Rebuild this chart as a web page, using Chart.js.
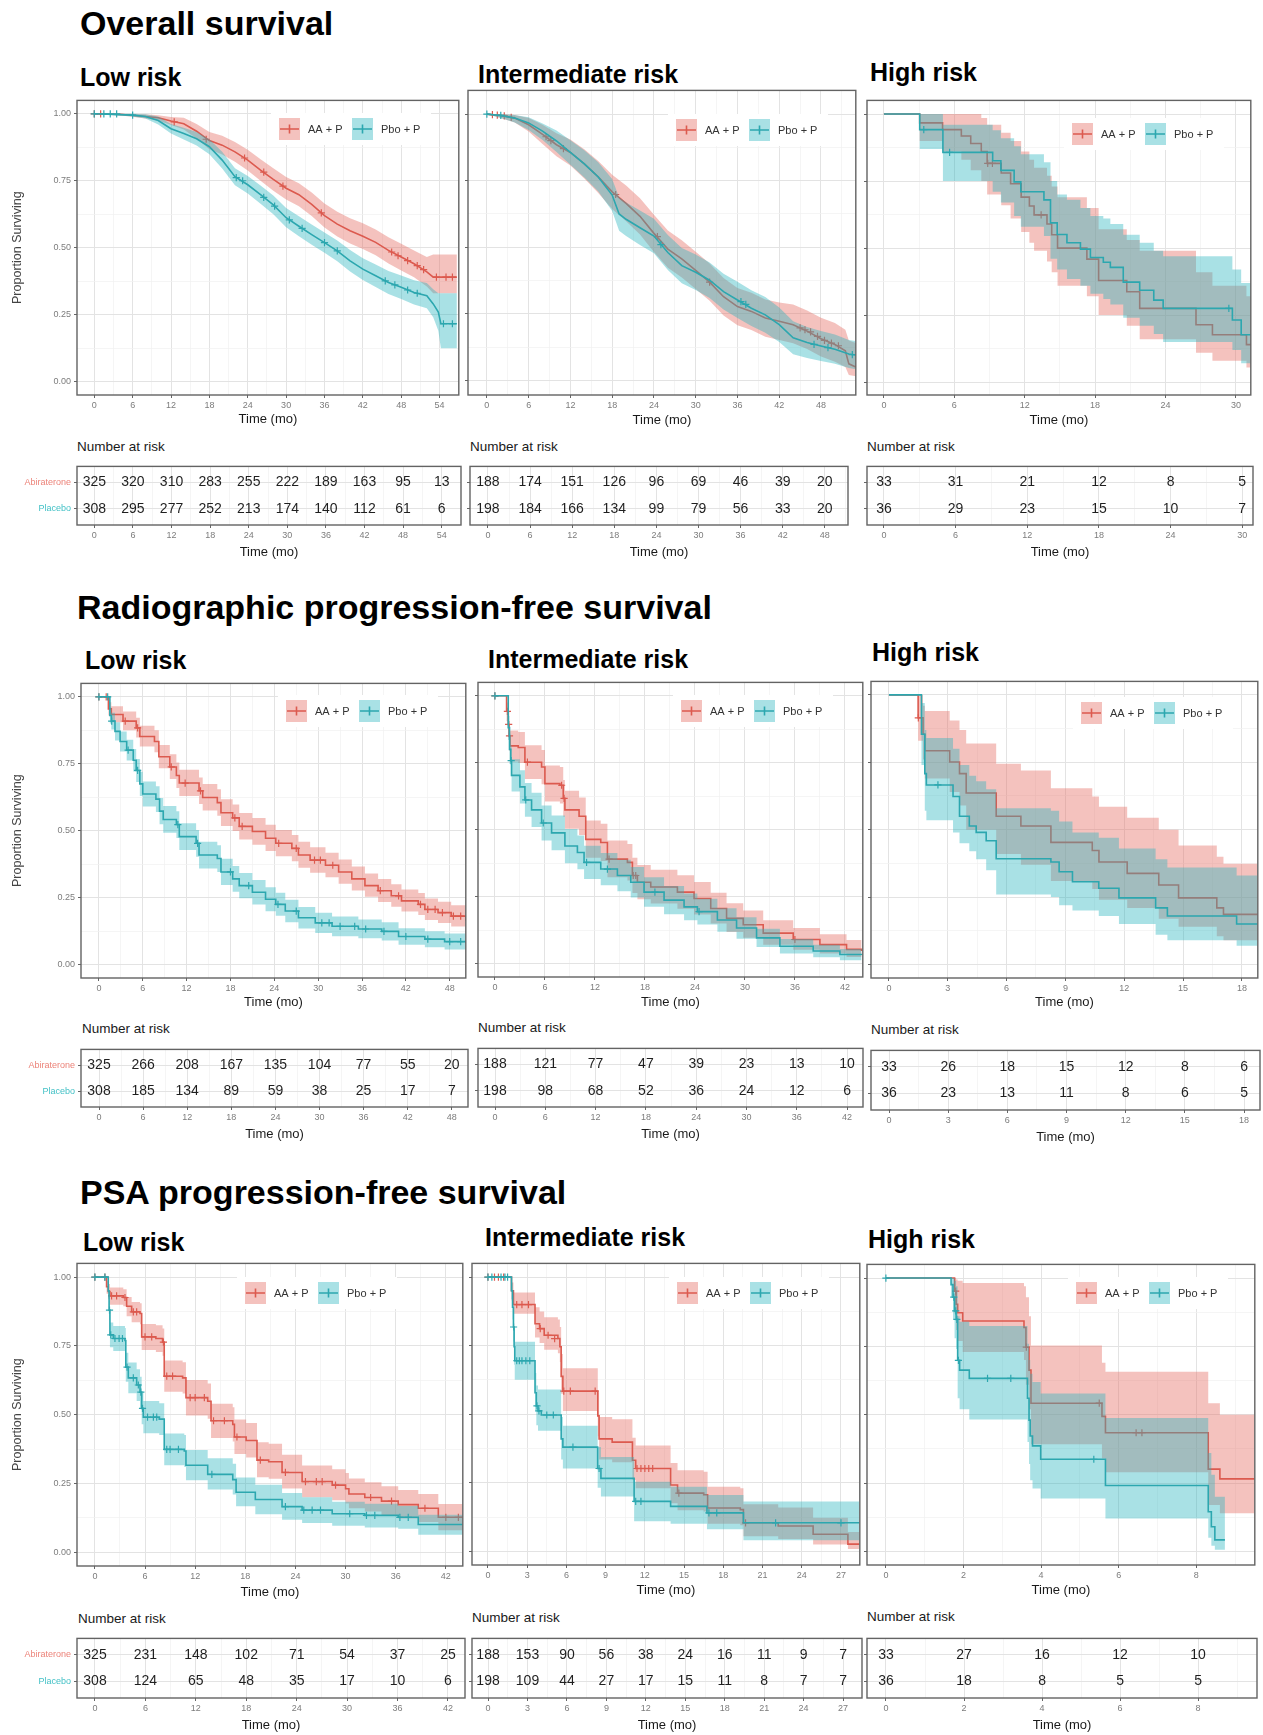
<!DOCTYPE html>
<html>
<head>
<meta charset="utf-8">
<script src="https://cdn.jsdelivr.net/npm/chart.js@4.4.1/dist/chart.umd.min.js"></script>
<style>
  html, body { margin: 0; padding: 0; background: #fff; }
  body { position: relative; width: 1263px; height: 1735px; overflow: hidden; font-family: "Liberation Sans", Arial, sans-serif; }
  canvas { position: absolute; }
  .sec { position: absolute; font-size: 34px; line-height: 34px; font-weight: bold; color: #000; white-space: nowrap; }
  .sub { position: absolute; font-size: 25px; line-height: 25px; font-weight: bold; color: #000; white-space: nowrap; }
  .nar { position: absolute; font-size: 13.5px; line-height: 13.5px; color: #1a1a1a; white-space: nowrap; }
</style>
</head>
<body>
<div class="sec" style="left:80px;top:5.5px">Overall survival</div>
<div class="sec" style="left:77px;top:589.5px">Radiographic progression-free survival</div>
<div class="sec" style="left:80px;top:1174.5px">PSA progression-free survival</div>

<div class="sub" style="left:80px;top:64.7px">Low risk</div>
<div class="sub" style="left:478px;top:61.7px">Intermediate risk</div>
<div class="sub" style="left:870px;top:59.7px">High risk</div>
<div class="sub" style="left:85px;top:647.7px">Low risk</div>
<div class="sub" style="left:488px;top:646.7px">Intermediate risk</div>
<div class="sub" style="left:872px;top:639.7px">High risk</div>
<div class="sub" style="left:83px;top:1229.7px">Low risk</div>
<div class="sub" style="left:485px;top:1224.7px">Intermediate risk</div>
<div class="sub" style="left:868px;top:1226.7px">High risk</div>

<div class="nar" style="left:77px;top:440.4px">Number at risk</div>
<div class="nar" style="left:470px;top:440.4px">Number at risk</div>
<div class="nar" style="left:867px;top:440.4px">Number at risk</div>
<div class="nar" style="left:82px;top:1022.4px">Number at risk</div>
<div class="nar" style="left:478px;top:1021.4px">Number at risk</div>
<div class="nar" style="left:871px;top:1023.4px">Number at risk</div>
<div class="nar" style="left:78px;top:1612.4px">Number at risk</div>
<div class="nar" style="left:472px;top:1611.4px">Number at risk</div>
<div class="nar" style="left:867px;top:1610.4px">Number at risk</div>

<script>
// ---- labels ----
const armLabels = ['AA + P', 'Pbo + P'];
const riskRowLabels = ['Abiraterone', 'Placebo'];
const survTicks = [0, 0.25, 0.5, 0.75, 1];
const survTickLabels = ['0.00', '0.25', '0.50', '0.75', '1.00'];

// ---- time ticks (also number-at-risk times) ----
const osLowTimes = [0, 6, 12, 18, 24, 30, 36, 42, 48, 54];
const osIntTimes = [0, 6, 12, 18, 24, 30, 36, 42, 48];
const osHighTimes = [0, 6, 12, 18, 24, 30];
const rpfsLowTimes = [0, 6, 12, 18, 24, 30, 36, 42, 48];
const rpfsIntTimes = [0, 6, 12, 18, 24, 30, 36, 42];
const rpfsHighTimes = [0, 3, 6, 9, 12, 15, 18];
const psaLowTimes = [0, 6, 12, 18, 24, 30, 36, 42];
const psaIntTimes = [0, 3, 6, 9, 12, 15, 18, 21, 24, 27];
const psaHighTimes = [0, 2, 4, 6, 8];

// ---- number at risk ----
const osLowRiskAbi = [325, 320, 310, 283, 255, 222, 189, 163, 95, 13];
const osLowRiskPbo = [308, 295, 277, 252, 213, 174, 140, 112, 61, 6];
const osIntRiskAbi = [188, 174, 151, 126, 96, 69, 46, 39, 20];
const osIntRiskPbo = [198, 184, 166, 134, 99, 79, 56, 33, 20];
const osHighRiskAbi = [33, 31, 21, 12, 8, 5];
const osHighRiskPbo = [36, 29, 23, 15, 10, 7];
const rpfsLowRiskAbi = [325, 266, 208, 167, 135, 104, 77, 55, 20];
const rpfsLowRiskPbo = [308, 185, 134, 89, 59, 38, 25, 17, 7];
const rpfsIntRiskAbi = [188, 121, 77, 47, 39, 23, 13, 10];
const rpfsIntRiskPbo = [198, 98, 68, 52, 36, 24, 12, 6];
const rpfsHighRiskAbi = [33, 26, 18, 15, 12, 8, 6];
const rpfsHighRiskPbo = [36, 23, 13, 11, 8, 6, 5];
const psaLowRiskAbi = [325, 231, 148, 102, 71, 54, 37, 25];
const psaLowRiskPbo = [308, 124, 65, 48, 35, 17, 10, 6];
const psaIntRiskAbi = [188, 153, 90, 56, 38, 24, 16, 11, 9, 7];
const psaIntRiskPbo = [198, 109, 44, 27, 17, 15, 11, 8, 7, 7];
const psaHighRiskAbi = [33, 27, 16, 12, 10];
const psaHighRiskPbo = [36, 18, 8, 5, 5];

// ---- Overall survival, low risk ----
const osLowAbiT = [0, 4, 8, 10, 12, 14, 16, 18, 20, 22, 24, 26, 28, 30, 32, 34, 36, 38, 40, 42, 44, 46, 48, 50, 52, 53, 56.7];
const osLowAbiS = [1, 0.998, 0.99, 0.985, 0.973, 0.963, 0.935, 0.9, 0.883, 0.858, 0.827, 0.79, 0.755, 0.722, 0.698, 0.662, 0.62, 0.588, 0.563, 0.543, 0.52, 0.49, 0.465, 0.44, 0.41, 0.39, 0.39];
const osLowAbiHi = [1, 1, 0.998, 0.995, 0.988, 0.985, 0.962, 0.932, 0.918, 0.895, 0.866, 0.83, 0.797, 0.764, 0.741, 0.706, 0.665, 0.634, 0.61, 0.591, 0.568, 0.539, 0.515, 0.49, 0.465, 0.475, 0.475];
const osLowAbiLo = [1, 0.995, 0.982, 0.975, 0.958, 0.941, 0.908, 0.868, 0.848, 0.821, 0.788, 0.75, 0.713, 0.68, 0.655, 0.618, 0.575, 0.542, 0.516, 0.495, 0.472, 0.441, 0.415, 0.39, 0.355, 0.33, 0.33];
const osLowAbiCens = [[0, 1], [1, 1], [12.5, 0.97], [17.5, 0.905], [23.5, 0.835], [26.5, 0.782], [29.5, 0.73], [35.5, 0.63], [46.5, 0.484], [47.5, 0.47], [49, 0.452], [50.5, 0.433], [51.5, 0.418], [53.5, 0.39], [55, 0.39], [56, 0.39]];
const osLowPboT = [0, 6, 8, 10, 12, 14, 16, 18, 20, 22, 24, 26, 28, 30, 32, 34, 36, 38, 40, 42, 44, 46, 48, 50, 52, 53, 53.8, 54.2, 56.7];
const osLowPboS = [1, 0.995, 0.99, 0.975, 0.944, 0.926, 0.907, 0.877, 0.827, 0.765, 0.735, 0.698, 0.66, 0.612, 0.58, 0.549, 0.519, 0.488, 0.451, 0.42, 0.395, 0.37, 0.352, 0.333, 0.321, 0.29, 0.26, 0.216, 0.216];
const osLowPboHi = [1, 1, 0.998, 0.99, 0.962, 0.948, 0.932, 0.905, 0.858, 0.797, 0.768, 0.732, 0.695, 0.648, 0.617, 0.587, 0.557, 0.527, 0.491, 0.461, 0.437, 0.413, 0.396, 0.378, 0.368, 0.345, 0.33, 0.33, 0.33];
const osLowPboLo = [1, 0.99, 0.982, 0.96, 0.926, 0.904, 0.882, 0.849, 0.796, 0.733, 0.702, 0.664, 0.625, 0.576, 0.543, 0.511, 0.481, 0.449, 0.411, 0.379, 0.353, 0.327, 0.308, 0.288, 0.274, 0.24, 0.19, 0.125, 0.125];
const osLowPboCens = [[0, 1], [1.5, 1], [2.5, 1], [3.5, 1], [6, 0.995], [22.2, 0.762], [23.2, 0.75], [26.5, 0.688], [28.2, 0.655], [30.5, 0.604], [32.5, 0.572], [36, 0.519], [38, 0.488], [45.5, 0.376], [47, 0.361], [49, 0.342], [50.5, 0.33], [54.6, 0.216], [56, 0.216]];

// ---- Overall survival, intermediate risk ----
const osIntAbiT = [0, 2, 4, 6, 8, 10, 12, 14, 16, 18, 20, 22, 24, 26, 28, 30, 32, 34, 36, 38, 40, 42, 44, 46, 48, 50, 51.5, 52, 53];
const osIntAbiS = [1, 0.995, 0.985, 0.96, 0.924, 0.885, 0.856, 0.813, 0.764, 0.708, 0.665, 0.616, 0.552, 0.493, 0.456, 0.413, 0.369, 0.314, 0.277, 0.259, 0.234, 0.222, 0.209, 0.185, 0.156, 0.135, 0.111, 0.062, 0.05];
const osIntAbiHi = [1, 1, 0.997, 0.985, 0.96, 0.928, 0.905, 0.868, 0.824, 0.772, 0.732, 0.684, 0.622, 0.563, 0.526, 0.483, 0.439, 0.384, 0.347, 0.329, 0.304, 0.292, 0.285, 0.262, 0.235, 0.215, 0.19, 0.15, 0.14];
const osIntAbiLo = [1, 0.985, 0.968, 0.935, 0.888, 0.842, 0.807, 0.758, 0.704, 0.644, 0.598, 0.548, 0.482, 0.423, 0.386, 0.343, 0.299, 0.244, 0.207, 0.189, 0.164, 0.152, 0.139, 0.118, 0.09, 0.07, 0.05, 0.02, 0.015];
const osIntAbiCens = [[0.8, 0.998], [1.5, 0.996], [2.5, 0.993], [3.5, 0.988], [8.5, 0.915], [9.2, 0.9], [11, 0.87], [18.5, 0.698], [24.5, 0.54], [32, 0.369], [45, 0.197], [45.7, 0.19], [46.5, 0.182], [47.5, 0.165], [48.5, 0.15], [49.5, 0.14], [50.5, 0.13]];
const osIntPboT = [0, 2, 4, 6, 8, 10, 12, 14, 16, 18, 19, 20, 22, 24, 26, 28, 30, 32, 34, 36, 38, 40, 42, 44, 46, 48, 50, 52, 53];
const osIntPboS = [1, 0.995, 0.985, 0.967, 0.936, 0.899, 0.856, 0.813, 0.764, 0.696, 0.625, 0.605, 0.573, 0.542, 0.48, 0.431, 0.406, 0.376, 0.333, 0.302, 0.271, 0.246, 0.209, 0.16, 0.142, 0.129, 0.117, 0.099, 0.095];
const osIntPboHi = [1, 1, 0.997, 0.988, 0.965, 0.938, 0.902, 0.864, 0.819, 0.756, 0.688, 0.668, 0.638, 0.607, 0.546, 0.497, 0.473, 0.443, 0.4, 0.37, 0.338, 0.313, 0.274, 0.222, 0.2, 0.185, 0.172, 0.152, 0.148];
const osIntPboLo = [1, 0.985, 0.968, 0.94, 0.903, 0.858, 0.81, 0.762, 0.709, 0.636, 0.562, 0.542, 0.508, 0.477, 0.414, 0.365, 0.339, 0.309, 0.266, 0.234, 0.204, 0.179, 0.144, 0.098, 0.084, 0.073, 0.062, 0.046, 0.042];
const osIntPboCens = [[0, 1], [2, 0.995], [25, 0.51], [36.5, 0.296], [37.2, 0.285], [47, 0.135], [49, 0.123], [52.5, 0.097]];

// ---- Overall survival, high risk ----
const osHighAbiT = [0, 3.05, 5.0, 6.6, 7.4, 8.3, 8.8, 10.0, 10.8, 11.7, 12.4, 12.8, 13.9, 14.3, 14.8, 17.3, 18.3, 20.7, 21.8, 26.6, 28.0, 30.9, 31.3];
const osHighAbiS = [1, 0.967, 0.942, 0.918, 0.89, 0.86, 0.816, 0.78, 0.74, 0.69, 0.657, 0.624, 0.59, 0.55, 0.5, 0.459, 0.379, 0.337, 0.275, 0.214, 0.177, 0.14, 0.14];
const osHighAbiHi = [1, 1, 1, 1, 1, 0.985, 0.96, 0.93, 0.9, 0.86, 0.83, 0.8, 0.77, 0.73, 0.69, 0.65, 0.57, 0.53, 0.49, 0.41, 0.36, 0.32, 0.32];
const osHighAbiLo = [1, 0.9, 0.86, 0.83, 0.79, 0.75, 0.7, 0.66, 0.61, 0.56, 0.52, 0.49, 0.45, 0.41, 0.36, 0.32, 0.25, 0.21, 0.16, 0.11, 0.08, 0.055, 0.055];
const osHighAbiCens = [[8.85, 0.816], [9.25, 0.816], [13.4, 0.624]];
const osHighPboT = [0, 3.05, 5.03, 9.27, 9.97, 11.1, 11.67, 13.64, 14.2, 14.77, 15.6, 16.75, 17.6, 18.7, 19.3, 20.4, 21.8, 23.0, 23.8, 29.7, 30.45, 31.3];
const osHighPboS = [1, 0.942, 0.857, 0.826, 0.79, 0.747, 0.71, 0.68, 0.594, 0.551, 0.52, 0.496, 0.465, 0.447, 0.428, 0.373, 0.343, 0.306, 0.275, 0.232, 0.177, 0.177];
const osHighPboHi = [1, 1, 0.96, 0.94, 0.91, 0.88, 0.85, 0.82, 0.75, 0.7, 0.68, 0.65, 0.62, 0.61, 0.59, 0.55, 0.52, 0.49, 0.47, 0.42, 0.37, 0.37];
const osHighPboLo = [1, 0.87, 0.75, 0.71, 0.67, 0.62, 0.58, 0.545, 0.46, 0.42, 0.385, 0.36, 0.33, 0.31, 0.29, 0.24, 0.21, 0.18, 0.15, 0.12, 0.07, 0.07];
const osHighPboCens = [[3.4, 0.942], [5.6, 0.857], [29.4, 0.275]];

// ---- rPFS, low risk ----
const rpfsLowAbiT = [0, 1.3, 1.7, 3.3, 5.1, 5.6, 7.6, 8.2, 9.7, 10.6, 11.0, 13.7, 14.2, 16.2, 16.7, 18.3, 19.2, 21.0, 22.8, 24.2, 26.4, 27.3, 28.9, 31.0, 32.8, 34.6, 36.4, 38.2, 40.0, 41.4, 43.7, 44.6, 46.4, 48.2, 50.2];
const rpfsLowAbiS = [1, 0.955, 0.934, 0.909, 0.884, 0.852, 0.833, 0.776, 0.738, 0.706, 0.678, 0.649, 0.624, 0.605, 0.567, 0.548, 0.516, 0.497, 0.472, 0.453, 0.434, 0.409, 0.39, 0.371, 0.346, 0.32, 0.295, 0.276, 0.257, 0.238, 0.225, 0.206, 0.194, 0.181, 0.165];
const rpfsLowAbiHi = [1, 0.98, 0.965, 0.945, 0.922, 0.892, 0.875, 0.82, 0.785, 0.755, 0.728, 0.699, 0.674, 0.655, 0.617, 0.598, 0.566, 0.547, 0.522, 0.503, 0.484, 0.459, 0.438, 0.418, 0.392, 0.366, 0.34, 0.32, 0.3, 0.28, 0.267, 0.247, 0.235, 0.222, 0.206];
const rpfsLowAbiLo = [1, 0.93, 0.905, 0.875, 0.848, 0.814, 0.793, 0.733, 0.693, 0.659, 0.63, 0.6, 0.575, 0.556, 0.518, 0.499, 0.467, 0.448, 0.424, 0.405, 0.386, 0.362, 0.343, 0.326, 0.302, 0.277, 0.253, 0.234, 0.216, 0.198, 0.185, 0.167, 0.155, 0.142, 0.128];
const rpfsLowAbiCens = [[0, 1], [1.0, 1], [3.6, 0.909], [5.3, 0.884], [9.9, 0.738], [11.8, 0.678], [13.9, 0.649], [18.6, 0.548], [19.6, 0.516], [24.6, 0.453], [27.0, 0.434], [29.5, 0.39], [30.3, 0.39], [32.0, 0.371], [38.5, 0.276], [41.0, 0.257], [44.0, 0.225], [45.0, 0.206], [46.0, 0.206], [47.0, 0.194], [48.5, 0.181], [49.5, 0.181]];
const rpfsLowPboT = [0, 1.5, 1.7, 2.2, 2.9, 3.8, 4.7, 5.1, 5.6, 6.0, 7.8, 8.3, 8.8, 10.6, 11.0, 13.3, 13.7, 16.2, 16.7, 18.3, 19.2, 21.0, 22.8, 24.2, 25.5, 27.3, 29.6, 31.9, 35.5, 38.7, 41.0, 44.6, 47.3, 50.2];
const rpfsLowPboS = [1, 0.93, 0.909, 0.871, 0.833, 0.801, 0.763, 0.725, 0.675, 0.637, 0.618, 0.573, 0.542, 0.523, 0.478, 0.453, 0.409, 0.396, 0.346, 0.32, 0.295, 0.27, 0.244, 0.225, 0.2, 0.175, 0.156, 0.143, 0.133, 0.124, 0.105, 0.095, 0.086, 0.08];
const rpfsLowPboHi = [1, 0.96, 0.94, 0.905, 0.87, 0.84, 0.805, 0.768, 0.72, 0.684, 0.666, 0.622, 0.592, 0.573, 0.528, 0.503, 0.459, 0.446, 0.395, 0.368, 0.342, 0.316, 0.289, 0.268, 0.242, 0.215, 0.194, 0.18, 0.168, 0.158, 0.136, 0.125, 0.116, 0.11];
const rpfsLowPboLo = [1, 0.9, 0.878, 0.837, 0.796, 0.762, 0.721, 0.682, 0.63, 0.59, 0.57, 0.524, 0.492, 0.473, 0.428, 0.403, 0.359, 0.346, 0.297, 0.272, 0.248, 0.224, 0.199, 0.182, 0.158, 0.135, 0.118, 0.106, 0.098, 0.09, 0.074, 0.065, 0.056, 0.05];
const rpfsLowPboCens = [[0, 1], [1.2, 1], [1.75, 0.909], [4.0, 0.801], [5.3, 0.725], [10.8, 0.523], [13.5, 0.453], [18.0, 0.346], [20.5, 0.295], [24.5, 0.225], [27.0, 0.2], [30.5, 0.156], [31.5, 0.156], [33.0, 0.143], [35.0, 0.143], [36.5, 0.133], [39.0, 0.124], [42.0, 0.105], [45.0, 0.095], [48.0, 0.086], [49.5, 0.086]];

// ---- rPFS, intermediate risk ----
const rpfsIntAbiT = [0, 1.4, 1.6, 1.7, 1.8, 2.8, 3.6, 5.6, 6.0, 7.8, 8.2, 8.4, 10.1, 10.9, 12.7, 13.5, 15.9, 16.5, 17.1, 18.7, 21.9, 23.9, 25.9, 27.8, 29.8, 32.2, 35.8, 39.0, 42.2, 44.0];
const rpfsIntAbiS = [1, 0.942, 0.893, 0.85, 0.813, 0.807, 0.752, 0.734, 0.672, 0.666, 0.617, 0.574, 0.55, 0.464, 0.452, 0.39, 0.378, 0.329, 0.304, 0.286, 0.267, 0.243, 0.206, 0.169, 0.145, 0.114, 0.09, 0.071, 0.053, 0.047];
const rpfsIntAbiHi = [1, 0.975, 0.94, 0.905, 0.87, 0.865, 0.815, 0.798, 0.74, 0.734, 0.686, 0.645, 0.62, 0.534, 0.522, 0.46, 0.447, 0.395, 0.368, 0.35, 0.33, 0.305, 0.265, 0.225, 0.198, 0.162, 0.133, 0.11, 0.088, 0.08];
const rpfsIntAbiLo = [1, 0.905, 0.845, 0.795, 0.755, 0.749, 0.689, 0.67, 0.605, 0.598, 0.548, 0.504, 0.48, 0.395, 0.383, 0.322, 0.31, 0.264, 0.24, 0.224, 0.205, 0.183, 0.15, 0.118, 0.097, 0.07, 0.052, 0.038, 0.025, 0.02];
const rpfsIntAbiCens = [[0, 1], [1.5, 0.942], [1.65, 0.893], [1.75, 0.85], [3.9, 0.752], [8.0, 0.666], [8.3, 0.617], [13.7, 0.39], [16.6, 0.329], [16.9, 0.329], [36.0, 0.09]];
const rpfsIntPboT = [0, 1.6, 1.75, 1.9, 2.0, 3.0, 3.6, 4.4, 5.6, 6.8, 8.4, 9.9, 10.7, 12.7, 14.7, 16.3, 17.9, 20.3, 22.7, 24.3, 26.7, 29.0, 31.4, 34.2, 38.2, 41.4, 44.0];
const rpfsIntPboS = [1, 0.881, 0.8, 0.758, 0.703, 0.66, 0.611, 0.574, 0.525, 0.488, 0.439, 0.415, 0.378, 0.353, 0.329, 0.304, 0.267, 0.237, 0.212, 0.194, 0.163, 0.133, 0.096, 0.065, 0.047, 0.034, 0.032];
const rpfsIntPboHi = [1, 0.925, 0.855, 0.815, 0.763, 0.722, 0.674, 0.638, 0.59, 0.553, 0.503, 0.478, 0.44, 0.413, 0.388, 0.361, 0.322, 0.29, 0.262, 0.242, 0.207, 0.173, 0.13, 0.092, 0.07, 0.055, 0.052];
const rpfsIntPboLo = [1, 0.835, 0.745, 0.7, 0.643, 0.598, 0.548, 0.51, 0.46, 0.423, 0.375, 0.352, 0.316, 0.293, 0.27, 0.247, 0.212, 0.184, 0.162, 0.146, 0.119, 0.093, 0.062, 0.038, 0.024, 0.013, 0.012];
const rpfsIntPboCens = [[0, 1], [1.95, 0.758], [3.7, 0.611], [5.8, 0.525], [11.0, 0.378], [13.5, 0.353], [19.2, 0.267], [24.5, 0.194]];

// ---- rPFS, high risk ----
const rpfsHighAbiT = [0, 1.49, 1.74, 1.83, 3.1, 3.6, 3.94, 5.47, 6.73, 8.26, 10.37, 10.71, 12.15, 13.76, 14.77, 16.72, 17.06, 18.8];
const rpfsHighAbiS = [1, 0.915, 0.854, 0.793, 0.751, 0.708, 0.636, 0.55, 0.514, 0.453, 0.423, 0.38, 0.338, 0.295, 0.247, 0.21, 0.186, 0.186];
const rpfsHighAbiHi = [1, 1, 0.96, 0.94, 0.905, 0.87, 0.82, 0.745, 0.72, 0.654, 0.623, 0.585, 0.544, 0.5, 0.441, 0.4, 0.374, 0.374];
const rpfsHighAbiLo = [1, 0.83, 0.76, 0.69, 0.64, 0.59, 0.5, 0.41, 0.37, 0.31, 0.28, 0.24, 0.21, 0.17, 0.14, 0.105, 0.09, 0.09];
const rpfsHighAbiCens = [[1.5, 0.915]];
const rpfsHighPboT = [0, 1.66, 1.83, 1.91, 3.27, 3.6, 4.1, 4.45, 4.96, 5.47, 8.26, 8.68, 9.36, 10.7, 11.73, 13.6, 14.2, 17.73, 18.8];
const rpfsHighPboS = [1, 0.854, 0.708, 0.666, 0.623, 0.55, 0.514, 0.49, 0.459, 0.392, 0.38, 0.344, 0.307, 0.283, 0.247, 0.21, 0.18, 0.15, 0.15];
const rpfsHighPboHi = [1, 0.97, 0.87, 0.84, 0.8, 0.74, 0.7, 0.68, 0.65, 0.58, 0.57, 0.53, 0.49, 0.47, 0.43, 0.39, 0.36, 0.33, 0.33];
const rpfsHighPboLo = [1, 0.74, 0.57, 0.535, 0.49, 0.45, 0.42, 0.39, 0.35, 0.26, 0.25, 0.22, 0.2, 0.18, 0.15, 0.11, 0.09, 0.07, 0.07];
const rpfsHighPboCens = [[2.5, 0.666]];

// ---- PSA PFS, low risk ----
const psaLowAbiT = [0, 1.4, 1.6, 1.8, 3.4, 3.8, 4.4, 5.4, 5.6, 7.3, 8.1, 8.3, 10.5, 10.9, 13.5, 13.9, 16.5, 16.7, 18.1, 19.4, 20.8, 22.4, 24.8, 28.4, 30.0, 30.4, 32.3, 34.3, 36.3, 38.7, 41.1, 44.0];
const psaLowAbiS = [1, 0.965, 0.948, 0.932, 0.926, 0.894, 0.874, 0.868, 0.783, 0.777, 0.764, 0.64, 0.634, 0.562, 0.549, 0.478, 0.465, 0.419, 0.406, 0.335, 0.329, 0.29, 0.257, 0.244, 0.231, 0.212, 0.199, 0.186, 0.173, 0.16, 0.127, 0.127];
const psaLowAbiHi = [1, 0.985, 0.975, 0.962, 0.956, 0.928, 0.91, 0.905, 0.83, 0.825, 0.813, 0.697, 0.691, 0.626, 0.613, 0.54, 0.527, 0.483, 0.47, 0.4, 0.394, 0.354, 0.315, 0.302, 0.288, 0.268, 0.254, 0.24, 0.226, 0.212, 0.175, 0.175];
const psaLowAbiLo = [1, 0.94, 0.92, 0.9, 0.894, 0.858, 0.836, 0.829, 0.735, 0.728, 0.714, 0.583, 0.577, 0.497, 0.485, 0.415, 0.403, 0.357, 0.344, 0.273, 0.267, 0.232, 0.2, 0.189, 0.177, 0.16, 0.148, 0.135, 0.123, 0.11, 0.08, 0.08];
const psaLowAbiCens = [[0, 1], [1.2, 1], [2.0, 0.932], [2.6, 0.932], [3.6, 0.926], [4.6, 0.874], [5.0, 0.874], [6.0, 0.783], [6.8, 0.783], [8.2, 0.764], [8.6, 0.64], [9.3, 0.64], [11.4, 0.562], [12.0, 0.562], [13.1, 0.562], [14.2, 0.478], [15.5, 0.478], [17.0, 0.419], [19.8, 0.335], [22.8, 0.29], [25.2, 0.257], [26.5, 0.257], [27.2, 0.257], [28.8, 0.244], [33.0, 0.199], [35.5, 0.186], [39.5, 0.16], [42.0, 0.127], [43.5, 0.127]];
const psaLowPboT = [0, 1.6, 1.7, 1.8, 2.2, 3.6, 3.7, 4.0, 5.0, 5.4, 5.6, 5.8, 7.7, 8.3, 10.7, 10.9, 13.5, 16.5, 16.9, 19.2, 22.4, 24.8, 28.4, 32.3, 36.3, 38.7, 44.0];
const psaLowPboS = [1, 0.95, 0.88, 0.79, 0.777, 0.77, 0.673, 0.634, 0.608, 0.582, 0.523, 0.491, 0.484, 0.374, 0.368, 0.316, 0.283, 0.264, 0.218, 0.192, 0.166, 0.153, 0.14, 0.134, 0.127, 0.101, 0.101];
const psaLowPboHi = [1, 0.975, 0.915, 0.835, 0.822, 0.815, 0.725, 0.69, 0.665, 0.638, 0.58, 0.55, 0.542, 0.432, 0.426, 0.372, 0.342, 0.322, 0.272, 0.245, 0.215, 0.2, 0.184, 0.176, 0.168, 0.136, 0.136];
const psaLowPboLo = [1, 0.925, 0.845, 0.745, 0.732, 0.725, 0.62, 0.578, 0.55, 0.525, 0.465, 0.433, 0.426, 0.316, 0.31, 0.262, 0.228, 0.21, 0.167, 0.138, 0.118, 0.106, 0.096, 0.09, 0.085, 0.064, 0.064];
const psaLowPboCens = [[0, 1], [1.2, 1], [1.75, 0.88], [1.9, 0.79], [2.4, 0.777], [2.9, 0.777], [3.3, 0.777], [3.85, 0.673], [4.6, 0.634], [5.2, 0.608], [5.5, 0.582], [5.7, 0.523], [6.3, 0.491], [7.0, 0.491], [7.4, 0.491], [8.6, 0.374], [9.0, 0.374], [10.0, 0.374], [14.0, 0.283], [22.8, 0.166], [25.0, 0.153], [26.0, 0.153], [27.0, 0.153], [30.5, 0.14], [32.5, 0.134], [33.5, 0.134], [36.5, 0.127], [37.5, 0.127]];

// ---- PSA PFS, intermediate risk ----
const psaIntAbiT = [0, 1.8, 1.95, 3.6, 3.95, 4.3, 5.35, 5.5, 5.6, 5.73, 8.4, 8.5, 9.5, 11.05, 11.3, 13.97, 14.5, 16.5, 16.8, 19.3, 19.54, 22.2, 24.87, 27.53, 28.4];
const psaIntAbiS = [1, 0.95, 0.9, 0.83, 0.812, 0.788, 0.776, 0.746, 0.638, 0.584, 0.494, 0.41, 0.398, 0.332, 0.302, 0.242, 0.212, 0.206, 0.158, 0.152, 0.104, 0.092, 0.062, 0.026, 0.026];
const psaIntAbiHi = [1, 0.98, 0.944, 0.89, 0.875, 0.854, 0.845, 0.818, 0.72, 0.668, 0.58, 0.49, 0.482, 0.414, 0.386, 0.322, 0.296, 0.29, 0.235, 0.23, 0.172, 0.16, 0.122, 0.07, 0.07];
const psaIntAbiLo = [1, 0.915, 0.866, 0.78, 0.76, 0.735, 0.722, 0.69, 0.575, 0.512, 0.42, 0.335, 0.325, 0.26, 0.23, 0.175, 0.15, 0.145, 0.1, 0.095, 0.055, 0.045, 0.025, 0.008, 0.008];
const psaIntAbiCens = [[0, 1], [0.5, 1], [0.8, 1], [1.2, 1], [2.2, 0.9], [2.6, 0.9], [3.1, 0.9], [4.0, 0.812], [4.6, 0.788], [5.1, 0.776], [5.8, 0.584], [6.3, 0.584], [8.2, 0.584], [11.4, 0.302], [11.7, 0.302], [12.0, 0.302], [12.3, 0.302], [12.6, 0.302], [14.6, 0.212], [19.7, 0.104]];
const psaIntPboT = [0, 1.8, 1.88, 1.95, 2.0, 2.05, 3.6, 3.7, 3.83, 4.08, 5.6, 5.73, 8.39, 8.64, 11.18, 13.97, 16.75, 19.54, 28.4];
const psaIntPboS = [1, 0.95, 0.89, 0.818, 0.746, 0.695, 0.578, 0.53, 0.512, 0.497, 0.41, 0.38, 0.302, 0.266, 0.182, 0.164, 0.14, 0.104, 0.104];
const psaIntPboHi = [1, 0.98, 0.935, 0.87, 0.81, 0.764, 0.65, 0.605, 0.59, 0.59, 0.49, 0.458, 0.38, 0.344, 0.254, 0.235, 0.205, 0.182, 0.182];
const psaIntPboLo = [1, 0.92, 0.845, 0.765, 0.68, 0.626, 0.51, 0.46, 0.44, 0.44, 0.335, 0.302, 0.232, 0.2, 0.11, 0.1, 0.08, 0.04, 0.04];
const psaIntPboCens = [[0, 1], [0.3, 1], [1.0, 1], [1.3, 1], [1.5, 1], [1.96, 0.818], [2.2, 0.695], [2.4, 0.695], [2.6, 0.695], [2.9, 0.695], [3.2, 0.695], [3.75, 0.53], [3.9, 0.512], [4.5, 0.497], [5.0, 0.497], [6.5, 0.38], [8.5, 0.302], [11.3, 0.182], [11.7, 0.182], [16.9, 0.14], [17.5, 0.14], [22.0, 0.104], [27.0, 0.104]];

// ---- PSA PFS, high risk ----
const psaHighAbiT = [0, 1.77, 1.81, 1.85, 1.98, 3.56, 3.61, 3.69, 3.74, 5.57, 5.66, 8.31, 8.61, 9.5];
const psaHighAbiS = [1, 0.952, 0.904, 0.873, 0.843, 0.819, 0.747, 0.663, 0.542, 0.494, 0.434, 0.301, 0.265, 0.265];
const psaHighAbiHi = [1, 1, 0.995, 0.99, 0.982, 0.97, 0.93, 0.86, 0.753, 0.69, 0.657, 0.542, 0.5, 0.5];
const psaHighAbiLo = [1, 0.87, 0.81, 0.77, 0.729, 0.7, 0.61, 0.52, 0.392, 0.34, 0.289, 0.17, 0.139, 0.139];
const psaHighAbiCens = [[1.8, 0.952], [3.62, 0.747], [5.5, 0.542], [6.45, 0.434], [6.6, 0.434]];
const psaHighPboT = [0, 1.68, 1.73, 1.77, 1.81, 1.85, 1.9, 2.15, 3.65, 3.69, 3.72, 3.78, 3.99, 5.66, 8.31, 8.39, 8.48, 8.74];
const psaHighPboS = [1, 0.976, 0.93, 0.88, 0.849, 0.699, 0.663, 0.633, 0.56, 0.48, 0.422, 0.386, 0.337, 0.241, 0.145, 0.09, 0.042, 0.042];
const psaHighPboHi = [1, 1, 1, 0.99, 0.97, 0.86, 0.84, 0.825, 0.76, 0.7, 0.65, 0.62, 0.578, 0.488, 0.36, 0.28, 0.2, 0.2];
const psaHighPboLo = [1, 0.93, 0.85, 0.78, 0.74, 0.56, 0.52, 0.482, 0.4, 0.32, 0.26, 0.23, 0.193, 0.12, 0.05, 0.02, 0.006, 0.006];
const psaHighPboCens = [[0, 1], [1.75, 0.93], [1.8, 0.88], [1.83, 0.849], [1.87, 0.699], [2.62, 0.633], [3.22, 0.633], [5.36, 0.337]];

// ---- styling ----
Chart.defaults.font.family = '"Liberation Sans", Arial, sans-serif';
const RED = '#DC5A4F', TEAL = '#2CA7AF';
const RED_BAND = 'rgba(228,110,100,0.42)', TEAL_BAND = 'rgba(40,180,190,0.40)';
const GRID_MAJOR = '#E3E3E3', GRID_MINOR = '#F1F1F1';
const NONE = 'rgba(0,0,0,0)';

function arm(t, s, lo, hi, cens) { return { t, s, lo, hi, cens }; }

// page layout of each panel: box = [left, top, right, bottom]
const panels = [
  { box: [77, 95, 461, 395], x: [-2.7, 57], y: [-0.05, 1.05], col1: true, H: 32, stepped: false, legend: [279, 118], ticks: osLowTimes,
    abi: arm(osLowAbiT, osLowAbiS, osLowAbiLo, osLowAbiHi, osLowAbiCens), pbo: arm(osLowPboT, osLowPboS, osLowPboLo, osLowPboHi, osLowPboCens),
    table: { box: [77, 461, 461, 525], x: [-2.7, 57], abi: osLowRiskAbi, pbo: osLowRiskPbo } },
  { box: [468, 85, 858, 395], x: [-2.71, 53], y: [-0.055, 1.089], col1: false, H: 33, stepped: false, legend: [676, 119], ticks: osIntTimes,
    abi: arm(osIntAbiT, osIntAbiS, osIntAbiLo, osIntAbiHi, osIntAbiCens), pbo: arm(osIntPboT, osIntPboS, osIntPboLo, osIntPboHi, osIntPboCens),
    table: { box: [470, 461, 848, 525], x: [-2.56, 51.3], abi: osIntRiskAbi, pbo: osIntRiskPbo } },
  { box: [867, 95, 1253, 395], x: [-1.44, 31.27], y: [-0.048, 1.051], col1: false, H: 33, stepped: true, legend: [1072, 123], ticks: osHighTimes,
    abi: arm(osHighAbiT, osHighAbiS, osHighAbiLo, osHighAbiHi, osHighAbiCens), pbo: arm(osHighPboT, osHighPboS, osHighPboLo, osHighPboHi, osHighPboCens),
    table: { box: [867, 461, 1253, 525], x: [-1.42, 30.9], abi: osHighRiskAbi, pbo: osHighRiskPbo } },

  { box: [81, 678, 468, 978], x: [-2.45, 50.2], y: [-0.05, 1.05], col1: true, H: 32, stepped: true, legend: [286, 700], ticks: rpfsLowTimes,
    abi: arm(rpfsLowAbiT, rpfsLowAbiS, rpfsLowAbiLo, rpfsLowAbiHi, rpfsLowAbiCens), pbo: arm(rpfsLowPboT, rpfsLowPboS, rpfsLowPboLo, rpfsLowPboHi, rpfsLowPboCens),
    table: { box: [81, 1044, 468, 1107], x: [-2.45, 50.2], abi: rpfsLowRiskAbi, pbo: rpfsLowRiskPbo } },
  { box: [478, 677, 865, 977], x: [-2.03, 44.15], y: [-0.05, 1.05], col1: false, H: 33, stepped: true, legend: [681, 700], ticks: rpfsIntTimes,
    abi: arm(rpfsIntAbiT, rpfsIntAbiS, rpfsIntAbiLo, rpfsIntAbiHi, rpfsIntAbiCens), pbo: arm(rpfsIntPboT, rpfsIntPboS, rpfsIntPboLo, rpfsIntPboHi, rpfsIntPboCens),
    table: { box: [478, 1043, 863, 1107], x: [-2.03, 43.9], abi: rpfsIntRiskAbi, pbo: rpfsIntRiskPbo } },
  { box: [871, 676, 1260, 978], x: [-0.913, 18.81], y: [-0.05, 1.05], col1: false, H: 32, stepped: true, legend: [1081, 702], ticks: rpfsHighTimes,
    abi: arm(rpfsHighAbiT, rpfsHighAbiS, rpfsHighAbiLo, rpfsHighAbiHi, rpfsHighAbiCens), pbo: arm(rpfsHighPboT, rpfsHighPboS, rpfsHighPboLo, rpfsHighPboHi, rpfsHighPboCens),
    table: { box: [871, 1045, 1260, 1110], x: [-0.913, 18.81], abi: rpfsHighRiskAbi, pbo: rpfsHighRiskPbo } },

  { box: [77, 1258, 465, 1566], x: [-2.14, 44.03], y: [-0.05, 1.05], col1: true, H: 34, stepped: true, legend: [245, 1282], ticks: psaLowTimes,
    abi: arm(psaLowAbiT, psaLowAbiS, psaLowAbiLo, psaLowAbiHi, psaLowAbiCens), pbo: arm(psaLowPboT, psaLowPboS, psaLowPboLo, psaLowPboHi, psaLowPboCens),
    table: { box: [77, 1633, 465, 1698], x: [-2.14, 44.03], abi: psaLowRiskAbi, pbo: psaLowRiskPbo } },
  { box: [472, 1258, 862, 1565], x: [-1.22, 28.44], y: [-0.05, 1.05], col1: false, H: 33, stepped: true, legend: [677, 1282], ticks: psaIntTimes,
    abi: arm(psaIntAbiT, psaIntAbiS, psaIntAbiLo, psaIntAbiHi, psaIntAbiCens), pbo: arm(psaIntPboT, psaIntPboS, psaIntPboLo, psaIntPboHi, psaIntPboCens),
    table: { box: [472, 1633, 862, 1698], x: [-1.22, 28.44], abi: psaIntRiskAbi, pbo: psaIntRiskPbo } },
  { box: [867, 1259, 1257, 1565], x: [-0.487, 9.51], y: [-0.05, 1.05], col1: false, H: 33, stepped: true, legend: [1076, 1282], ticks: psaHighTimes,
    abi: arm(psaHighAbiT, psaHighAbiS, psaHighAbiLo, psaHighAbiHi, psaHighAbiCens), pbo: arm(psaHighPboT, psaHighPboS, psaHighPboLo, psaHighPboHi, psaHighPboCens),
    table: { box: [867, 1633, 1257, 1698], x: [-0.487, 9.51], abi: psaHighRiskAbi, pbo: psaHighRiskPbo } }
];

function withMinors(majors, range) {
  const step = majors[1] - majors[0];
  const out = majors.map(v => ({ value: v }));
  for (let i = -1; i < majors.length; i++) {
    const m = majors[0] + step * (i + 0.5);
    if (m > range[0] && m < range[1]) out.push({ value: m, minor: true });
  }
  return out.sort((a, b) => a.value - b.value);
}

const isMinor = c => !!(c.tick && c.tick.minor);
const gridOpts = {
  color: c => isMinor(c) ? GRID_MINOR : GRID_MAJOR,
  lineWidth: c => isMinor(c) ? 0.7 : 1,
  tickLength: 3,
  tickWidth: 1,
  tickColor: c => isMinor(c) ? NONE : '#666'
};

function timeAxis(range, majors, height) {
  return {
    type: 'linear', bounds: 'data', min: range[0], max: range[1],
    afterBuildTicks: s => { s.ticks = withMinors(majors, range); },
    afterFit: s => { s.height = height; },
    ticks: { autoSkip: false, maxRotation: 0, padding: 2, color: '#7c7c7c', font: { size: 9 },
      callback: (v, i, t) => t[i].minor ? '' : String(v) },
    grid: gridOpts,
    border: { display: false },
    title: { display: true, text: 'Time (mo)', color: '#1a1a1a', font: { size: 13 }, padding: 0 }
  };
}

function survAxis(range, width, col1) {
  return {
    type: 'linear', bounds: 'data', min: range[0], max: range[1],
    afterBuildTicks: s => { s.ticks = withMinors(survTicks, range); },
    afterFit: s => { s.width = width; },
    ticks: { autoSkip: false, padding: 3, color: '#7c7c7c', font: { size: 9 },
      callback: (v, i, t) => (!col1 || t[i].minor) ? '' : survTickLabels[survTicks.indexOf(v)] },
    grid: gridOpts,
    border: { display: false },
    title: { display: col1, text: 'Proportion Surviving', color: '#444', font: { size: 12.5 }, padding: { top: 10, bottom: 0 } }
  };
}

function riskAxis(width, col1) {
  return {
    type: 'linear', bounds: 'data', min: -0.62, max: 1.62,
    afterBuildTicks: s => { s.ticks = [{ value: 0 }, { value: 1 }]; },
    afterFit: s => { s.width = width; },
    ticks: { autoSkip: false, padding: 3, font: { size: 9 },
      color: c => (c.tick && c.tick.value === 1) ? '#EC8379' : '#43C1C6',
      callback: v => col1 ? riskRowLabels[v === 1 ? 0 : 1] : '' },
    grid: { color: GRID_MAJOR, lineWidth: 1, tickLength: 3, tickColor: '#666' },
    border: { display: false }
  };
}

const extras = {
  id: 'extras',
  afterDatasetsDraw(chart, args, opts) {
    const ctx = chart.ctx, a = chart.chartArea;
    ctx.save();
    if (opts.numbers) {
      ctx.fillStyle = '#1f1f1f';
      ctx.font = '14px "Liberation Sans", Arial, sans-serif';
      ctx.textAlign = 'center';
      ctx.textBaseline = 'middle';
      chart.data.datasets.forEach((ds, di) => {
        chart.getDatasetMeta(di).data.forEach((pt, j) => ctx.fillText(String(ds.numbers[j]), pt.x, pt.y));
      });
    }
    if (opts.legend) {
      const [x, y] = opts.legend;
      ctx.fillStyle = '#fff';
      ctx.fillRect(x - 8, y - 5, 160, 32);
      [[RED_BAND, RED, 0, armLabels[0]], [TEAL_BAND, TEAL, 73, armLabels[1]]].forEach(([band, line, dx, label]) => {
        ctx.fillStyle = band;
        ctx.fillRect(x + dx, y, 21, 22);
        ctx.strokeStyle = line;
        ctx.lineWidth = 1.6;
        ctx.beginPath();
        ctx.moveTo(x + dx + 1, y + 11); ctx.lineTo(x + dx + 20, y + 11);
        ctx.moveTo(x + dx + 10.5, y + 6.5); ctx.lineTo(x + dx + 10.5, y + 15.5);
        ctx.stroke();
        ctx.fillStyle = '#333';
        ctx.font = '11px "Liberation Sans", Arial, sans-serif';
        ctx.textAlign = 'left';
        ctx.textBaseline = 'middle';
        ctx.fillText(label, x + dx + 29, y + 11.5);
      });
    }
    ctx.strokeStyle = '#636363';
    ctx.lineWidth = 1.4;
    ctx.strokeRect(a.left, a.top, a.right - a.left, a.bottom - a.top);
    ctx.restore();
  }
};

function placeCanvas(left, top, w, h) {
  const c = document.createElement('canvas');
  c.width = w; c.height = h;
  c.style.left = left + 'px'; c.style.top = top + 'px';
  c.style.width = w + 'px'; c.style.height = h + 'px';
  document.body.appendChild(c);
  return c;
}

// KM curves hold their value until the next event: Chart.js 'before' stepping
function armSets(a, line, band, stepped) {
  const pts = ys => a.t.map((t, i) => ({ x: t, y: ys[i] }));
  const st = stepped ? 'before' : false;
  return [
    { data: a.cens.map(c => ({ x: c[0], y: c[1] })), showLine: false, pointStyle: 'cross', pointRadius: 3.6,
      pointBorderWidth: 1.2, borderColor: line, pointBorderColor: line, backgroundColor: line },
    { data: pts(a.s), borderColor: line, borderWidth: 1.6, pointRadius: 0, stepped: st, fill: false },
    { data: pts(a.hi), borderColor: NONE, borderWidth: 0, pointRadius: 0, stepped: st, backgroundColor: band, fill: '+1' },
    { data: pts(a.lo), borderColor: NONE, borderWidth: 0, pointRadius: 0, stepped: st, fill: false }
  ];
}

function baseOptions(extraOpts, xScale, yScale) {
  return {
    responsive: false, animation: false, devicePixelRatio: 1,
    layout: { padding: { top: 3, right: 3, left: 0, bottom: 0 } },
    plugins: { legend: { display: false }, tooltip: { enabled: false }, extras: extraOpts },
    scales: { x: xScale, y: yScale }
  };
}

panels.forEach(p => {
  // survival panel
  const [L, T, R, B] = p.box;
  const yw = p.col1 ? L : 6;
  const cl = L - yw, ct = T - 3;
  const cv = placeCanvas(cl, ct, R - L + yw + 3, B - T + 3 + p.H);
  new Chart(cv, {
    type: 'line',
    data: { datasets: [...armSets(p.pbo, TEAL, TEAL_BAND, p.stepped), ...armSets(p.abi, RED, RED_BAND, p.stepped)] },
    options: baseOptions({ legend: [p.legend[0] - cl, p.legend[1] - ct] }, timeAxis(p.x, p.ticks, p.H), survAxis(p.y, yw, p.col1)),
    plugins: [extras]
  });

  // number at risk table
  const tb = p.table;
  const [tL, tT, tR, tB] = tb.box;
  const tw = p.col1 ? tL : 6;
  const tcv = placeCanvas(tL - tw, tT - 3, tR - tL + tw + 3, tB - tT + 3 + 35);
  new Chart(tcv, {
    type: 'scatter',
    data: { datasets: [
      { data: p.ticks.map(t => ({ x: t, y: 1 })), numbers: tb.abi, pointRadius: 0 },
      { data: p.ticks.map(t => ({ x: t, y: 0 })), numbers: tb.pbo, pointRadius: 0 }
    ] },
    options: baseOptions({ numbers: true }, timeAxis(tb.x, p.ticks, 35), riskAxis(tw, p.col1)),
    plugins: [extras]
  });
});
</script>
</body>
</html>
